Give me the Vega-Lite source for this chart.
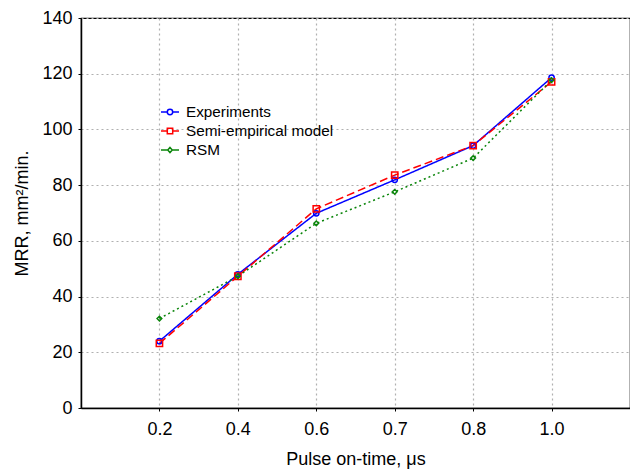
{
  "$schema": "https://vega.github.io/schema/vega-lite/v6.json",
  "width": 549,
  "height": 390,
  "autosize": {"type": "none"},
  "padding": {"left": 81, "top": 18, "right": 0, "bottom": 62},
  "background": "white",
  "config": {
    "font": "Liberation Sans",
    "view": {"stroke": "black", "strokeWidth": 1.2},
    "axis": {
      "domainColor": "black",
      "domainWidth": 1.5,
      "tickColor": "black",
      "tickSize": 3,
      "labelFont": "Liberation Sans",
      "labelFontSize": 18,
      "labelColor": "black",
      "titleFont": "Liberation Sans",
      "titleFontSize": 18,
      "titleFontWeight": "normal",
      "titleColor": "black",
      "gridColor": "#b0b0b0",
      "gridDash": [2, 3],
      "gridWidth": 1.2
    }
  },
  "data": {
    "values": [
      {"x": "0.2", "series": "Experiments", "y": 24},
      {"x": "0.4", "series": "Experiments", "y": 48},
      {"x": "0.6", "series": "Experiments", "y": 69.9},
      {"x": "0.7", "series": "Experiments", "y": 81.9},
      {"x": "0.8", "series": "Experiments", "y": 94.2},
      {"x": "1.0", "series": "Experiments", "y": 118.6},
      {"x": "0.2", "series": "Semi-empirical model", "y": 23.2},
      {"x": "0.4", "series": "Semi-empirical model", "y": 47.3},
      {"x": "0.6", "series": "Semi-empirical model", "y": 71.5},
      {"x": "0.7", "series": "Semi-empirical model", "y": 83.6},
      {"x": "0.8", "series": "Semi-empirical model", "y": 94.2},
      {"x": "1.0", "series": "Semi-empirical model", "y": 117.1},
      {"x": "0.2", "series": "RSM", "y": 32.1},
      {"x": "0.4", "series": "RSM", "y": 47.3},
      {"x": "0.6", "series": "RSM", "y": 66.3},
      {"x": "0.7", "series": "RSM", "y": 77.6},
      {"x": "0.8", "series": "RSM", "y": 89.7},
      {"x": "1.0", "series": "RSM", "y": 117.7}
    ]
  },
  "encoding": {
    "x": {
      "field": "x",
      "type": "ordinal",
      "sort": ["0.2", "0.4", "0.6", "0.7", "0.8", "1.0"],
      "scale": {"type": "point", "padding": 1},
      "axis": {"title": "Pulse on-time, μs", "labelAngle": 0, "grid": true, "labelPadding": 9, "titlePadding": 12}
    },
    "y": {
      "field": "y",
      "type": "quantitative",
      "scale": {"domain": [0, 140], "nice": false},
      "axis": {"title": "MRR, mm²/min.", "values": [0, 20, 40, 60, 80, 100, 120, 140], "grid": true, "labelPadding": 6, "titlePadding": 10}
    },
    "color": {
      "field": "series",
      "type": "nominal",
      "scale": {"domain": ["Experiments", "Semi-empirical model", "RSM"], "range": ["#0000ff", "#ff0000", "#0a850a"]},
      "legend": {
        "title": null,
        "orient": "none",
        "legendX": 79,
        "legendY": 84,
        "symbolSize": 324,
        "symbolStrokeWidth": 1.5,
        "symbolType": "M-1,0L-0.3,0M0.3,0L1,0M-0.3,0A0.3,0.3 0 1,1 0.3,0A0.3,0.3 0 1,1 -0.3,0",
        "labelFont": "Liberation Sans",
        "labelFontSize": 15.3,
        "labelColor": "black",
        "labelOffset": 6,
        "rowPadding": 0,
        "encode": {
          "symbols": {
            "update": {
              "shape": {"signal": "datum.value === 'Experiments' ? 'M-1,0L-0.3,0M0.3,0L1,0M-0.3,0A0.3,0.3 0 1,1 0.3,0A0.3,0.3 0 1,1 -0.3,0' : datum.value === 'RSM' ? 'M-1,0L-0.25,0M0.25,0L1,0M0,-0.28L0.25,0L0,0.28L-0.25,0Z' : 'M-1,0L-0.3,0M0.3,0L1,0M-0.3,-0.3L0.3,-0.3L0.3,0.3L-0.3,0.3Z'"},
              "fill": {"value": "transparent"},
              "strokeWidth": {"value": 1.5},
              "opacity": {"value": 1}
            }
          }
        }
      }
    }
  },
  "layer": [
    {
      "mark": {"type": "line", "strokeWidth": 1.5},
      "encoding": {
        "strokeDash": {
          "condition": [
            {"test": "datum.series === 'Semi-empirical model'", "value": [8, 4]},
            {"test": "datum.series === 'RSM'", "value": [2, 3]}
          ],
          "value": [1, 0]
        }
      }
    },
    {
      "mark": {"type": "point", "filled": false, "strokeWidth": 1.5, "opacity": 1},
      "encoding": {
        "shape": {
          "condition": [
            {"test": "datum.series === 'Semi-empirical model'", "value": "square"},
            {"test": "datum.series === 'RSM'", "value": "diamond"}
          ],
          "value": "circle"
        },
        "size": {
          "condition": [
            {"test": "datum.series === 'Semi-empirical model'", "value": 40},
            {"test": "datum.series === 'RSM'", "value": 22}
          ],
          "value": 28
        }
      }
    }
  ]
}
